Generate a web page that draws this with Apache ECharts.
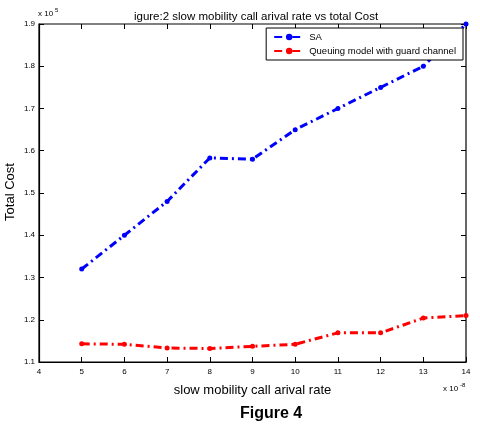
<!DOCTYPE html>
<html>
<head>
<meta charset="utf-8">
<script src="https://cdn.jsdelivr.net/npm/echarts@6/dist/echarts.min.js"></script>
<style>
  html, body { margin: 0; padding: 0; background: #fff; }
  #chart { width: 480px; height: 426px; }
</style>
</head>
<body>
<div id="chart"></div>
<script>
// x values (x 10^-8), costs (x 10^5)
var rates = [5, 6, 7, 8, 9, 10, 11, 12, 13, 14]
var saCost = [1.32, 1.40, 1.48, 1.583, 1.58, 1.65, 1.70, 1.75, 1.80, 1.90]
var queueCost = [1.143, 1.142, 1.133, 1.132, 1.137, 1.142, 1.169, 1.169, 1.204, 1.21]

function pairs (xs, ys) {
  var out = []
  for (var i = 0; i < xs.length; i++) out.push([xs[i], ys[i]])
  return out
}

var font = 'Liberation Sans'
var myChart = echarts.init(document.getElementById('chart'))

var hiddenAxis = {
  axisLine: { show: false },
  axisTick: { show: true, inside: true, length: 5, lineStyle: { color: '#000' } },
  axisLabel: { show: false },
  splitLine: { show: false }
}

myChart.setOption({
  backgroundColor: '#fff',
  animation: false,
  title: {
    text: 'igure:2 slow mobility call arival rate vs total Cost',
    left: 251, top: 6, textAlign: 'center',
    textStyle: { fontFamily: font, fontSize: 11.5, fontWeight: 'normal', color: '#000' }
  },
  grid: { left: 39, right: 14, top: 24, bottom: 64, show: true, borderColor: '#000', borderWidth: 1.2,
    containLabel: false, outerBoundsMode: 'none' },
  legend: {
    right: 17, top: 28, orient: 'vertical',
    backgroundColor: '#fff', borderColor: '#000', borderWidth: 1,
    padding: [4, 7, 4, 7], itemGap: 4, itemWidth: 30, itemHeight: 8,
    textStyle: { fontFamily: font, fontSize: 9.5, color: '#000' },
    data: ['SA', 'Queuing model with guard channel']
  },
  xAxis: [{
    type: 'value', min: 4, max: 14, interval: 1,
    axisLine: { show: true, lineStyle: { color: '#000', width: 1.2 } },
    axisTick: { inside: true, length: 5, lineStyle: { color: '#000' } },
    axisLabel: { fontFamily: font, fontSize: 8, color: '#000', margin: 6 },
    splitLine: { show: false },
    name: 'slow mobility call arival rate', nameLocation: 'middle', nameGap: 22,
    nameTextStyle: { fontFamily: font, fontSize: 13, color: '#000' }
  }, Object.assign({ type: 'value', position: 'top', min: 4, max: 14, interval: 1 }, hiddenAxis)],
  yAxis: [{
    type: 'value', min: 1.1, max: 1.9, interval: 0.1,
    axisLine: { show: true, lineStyle: { color: '#000', width: 1.2 } },
    axisTick: { show: true, inside: true, length: 5, lineStyle: { color: '#000' } },
    axisLabel: { fontFamily: font, fontSize: 8, color: '#000', margin: 4,
      formatter: function (v) { return v.toFixed(1) } },
    splitLine: { show: false }
  }, Object.assign({ type: 'value', position: 'right', min: 1.1, max: 1.9, interval: 0.1 }, hiddenAxis)],
  graphic: [
    { type: 'text', x: 10, y: 192, rotation: Math.PI / 2,
      style: { text: 'Total Cost', font: '13px Liberation Sans', fill: '#000', align: 'center', verticalAlign: 'middle' } },
    { type: 'text', left: 38, top: 10, style: { text: 'x 10', font: '8px Liberation Sans', fill: '#000' } },
    { type: 'text', left: 55, top: 7, style: { text: '5', font: '6px Liberation Sans', fill: '#000' } },
    { type: 'text', left: 443, top: 385, style: { text: 'x 10', font: '8px Liberation Sans', fill: '#000' } },
    { type: 'text', left: 460, top: 382, style: { text: '-8', font: '6px Liberation Sans', fill: '#000' } },
    { type: 'text', left: 240, top: 406, style: { text: 'Figure 4', font: 'bold 16px Liberation Sans', fill: '#000', align: 'center' } }
  ],
  series: [{
    name: 'SA', type: 'line',
    data: pairs(rates, saCost),
    color: '#0000ff',
    symbol: 'circle', symbolSize: 5,
    lineStyle: { width: 3, type: [8, 4, 2, 4] }
  }, {
    name: 'Queuing model with guard channel', type: 'line',
    data: pairs(rates, queueCost),
    color: '#ff0000',
    symbol: 'circle', symbolSize: 5,
    lineStyle: { width: 3, type: [8, 4, 2, 4] }
  }]
})
</script>
</body>
</html>
